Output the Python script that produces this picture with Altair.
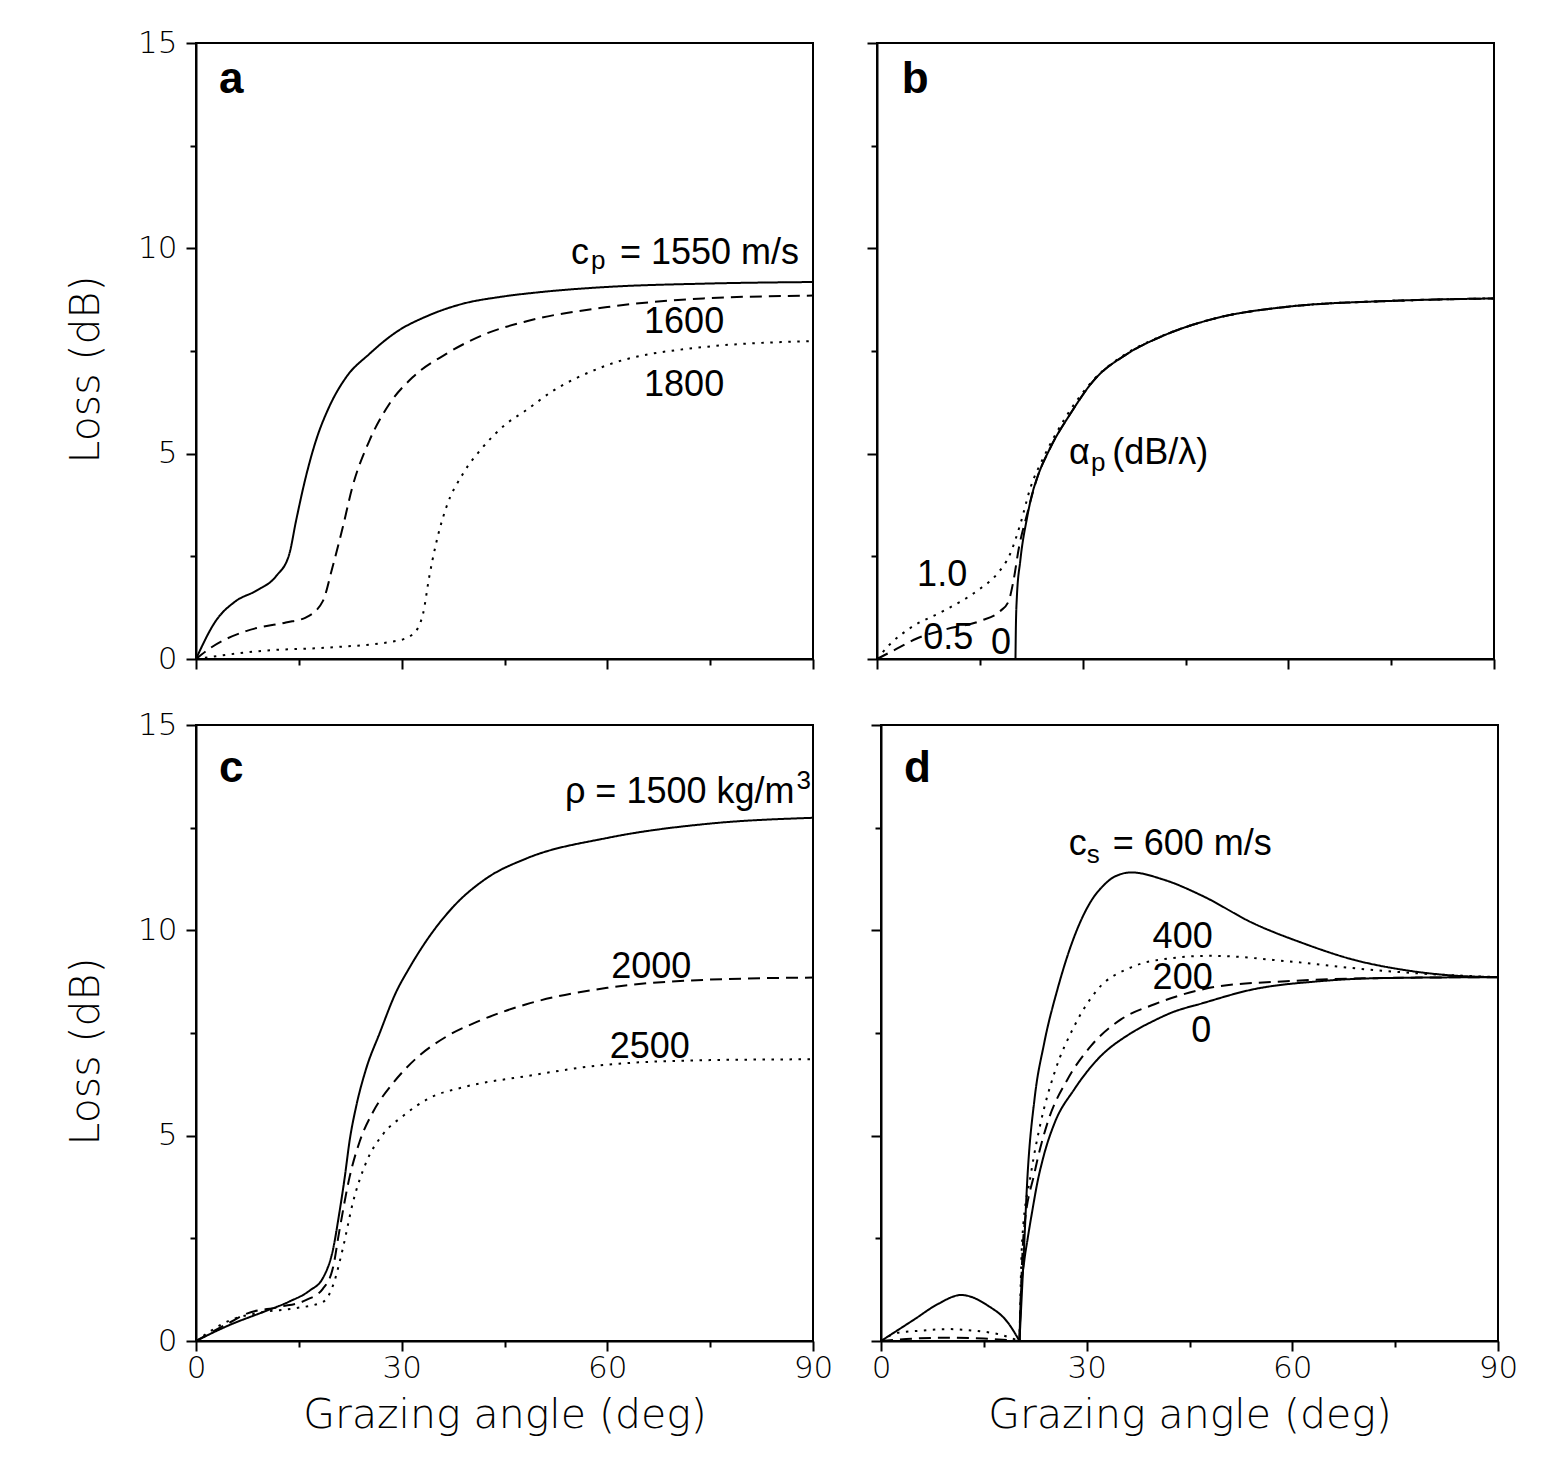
import altair as alt
import pandas as pd

# ---------------- Panel a : compressional speed c_p ----------------
a1550_x = [0, 2.9, 5.8, 8.75, 11.7, 13.6, 14.6, 16.0, 17.5, 19.4, 21.9, 25.3, 29.2, 34.0, 38.9, 44.5, 50, 60, 74, 90]
a1550_y = [0, 0.93, 1.41, 1.66, 2.02, 2.55, 3.37, 4.42, 5.32, 6.13, 6.86, 7.43, 7.96, 8.37, 8.65, 8.82, 8.93, 9.06, 9.14, 9.18]
a1600_x = [0, 2.2, 7.3, 13.1, 16.0, 18.5, 19.9, 21.4, 22.8, 25.3, 28.2, 31.6, 36.5, 42.3, 48.1, 60, 74, 90]
a1600_y = [0, 0.28, 0.68, 0.89, 1.01, 1.41, 2.23, 3.2, 4.18, 5.32, 6.21, 6.86, 7.43, 7.92, 8.22, 8.57, 8.78, 8.85]
a1800_x = [0, 9.7, 19.4, 29.2, 31.6, 33.1, 34.0, 35.0, 36.5, 38.9, 41.8, 45.2, 48.1, 51.8, 59.1, 73.7, 90]
a1800_y = [0, 0.2, 0.28, 0.44, 0.6, 1.09, 1.98, 2.8, 3.69, 4.5, 5.15, 5.72, 6.05, 6.5, 7.1, 7.59, 7.74]

# ---------------- Panel b : attenuation alpha_p ----------------
b0_flat_x = [0, 20.2]
b0_flat_y = [0, 0]
b0_x = [20.2, 20.25, 20.4, 20.9, 21.9, 22.6, 23.3, 25.3, 28.2, 31.6, 36.5, 41.3, 48.1, 60, 75, 90]
b0_y = [0, 0.7, 1.5, 2.39, 3.45, 4.0, 4.38, 5.15, 5.97, 6.78, 7.43, 7.84, 8.24, 8.58, 8.72, 8.78]
b05_x = [0, 2.9, 5.8, 10, 15.1, 18.0, 19.2, 19.9, 20.7, 21.9, 23.3, 25.3, 28.2, 31.6, 36.5, 41.3, 48.1, 60, 75, 90]
b05_y = [0, 0.25, 0.5, 0.72, 0.93, 1.17, 1.41, 1.9, 2.71, 3.53, 4.38, 5.15, 5.97, 6.78, 7.43, 7.84, 8.24, 8.58, 8.72, 8.78]
b10_x = [0, 1.9, 4.9, 9.7, 14.6, 17.5, 19.4, 20.9, 22.4, 24.3, 27.2, 31.6, 36.5, 41.3, 48.1, 60, 75, 90]
b10_y = [0, 0.36, 0.76, 1.17, 1.66, 2.07, 2.55, 3.28, 4.18, 4.91, 5.8, 6.8, 7.45, 7.85, 8.24, 8.58, 8.72, 8.78]

# ---------------- Panel c : density rho ----------------
c1500_x = [0, 4.9, 9.7, 13.6, 16.6, 18.5, 20.0, 20.9, 21.7, 22.4, 23.4, 24.8, 26.8, 29.2, 31.0, 33.1, 37.5, 42.4, 48.2, 60, 75, 90]
c1500_y = [0, 0.39, 0.70, 0.96, 1.23, 1.53, 2.24, 3.11, 3.99, 4.87, 5.74, 6.62, 7.50, 8.5, 9.05, 9.62, 10.57, 11.27, 11.75, 12.25, 12.6, 12.74]
c2000_x = [0, 4.9, 7.3, 12.2, 16.1, 18.5, 20.0, 20.9, 22.4, 23.9, 25.8, 28.7, 32.1, 36.5, 41.4, 48.2, 60, 75, 90]
c2000_y = [0, 0.45, 0.66, 0.83, 1.0, 1.27, 1.8, 2.67, 3.99, 4.87, 5.57, 6.27, 6.88, 7.41, 7.8, 8.2, 8.6, 8.8, 8.85]
c2500_x = [0, 4.9, 9.7, 14.6, 18.5, 20.0, 21.4, 22.9, 24.8, 27.3, 30.2, 34.1, 39.0, 48.2, 60, 75, 90]
c2500_y = [0, 0.5, 0.70, 0.8, 0.95, 1.36, 2.24, 3.38, 4.34, 5.04, 5.48, 5.92, 6.18, 6.45, 6.73, 6.84, 6.86]

# ---------------- Panel d : shear speed c_s ----------------
d600_bump_x = [0, 4.9, 8.3, 11.7, 15.6, 18.5, 20.2]
d600_bump_y = [0, 0.53, 0.9, 1.12, 0.86, 0.45, 0]
d600_x = [20.2, 20.7, 21.4, 22.4, 23.8, 25.8, 28.2, 30.6, 32.5, 34.0, 36.5, 41.3, 47.0, 54.2, 61.5, 68.8, 76.1, 83.4, 90]
d600_y = [0, 1.67, 4.1, 5.9, 7.25, 8.6, 9.85, 10.7, 11.1, 11.3, 11.41, 11.23, 10.83, 10.18, 9.69, 9.29, 9.04, 8.9, 8.86]
d400_bump_x = [0, 2.4, 5.8, 9.7, 13.6, 17.0, 20.2]
d400_bump_y = [0, 0.2, 0.25, 0.29, 0.25, 0.17, 0]
d400_x = [20.2, 20.6, 21.9, 23.3, 25.3, 28.2, 31.6, 36.5, 41.3, 48.1, 59.1, 68.8, 78.6, 90]
d400_y = [0, 2.48, 4.1, 5.32, 6.53, 7.67, 8.56, 9.1, 9.3, 9.38, 9.25, 9.08, 8.95, 8.86]
d200_bump_x = [0, 5, 10, 15, 20.2]
d200_bump_y = [0, 0.06, 0.08, 0.06, 0]
d200_x = [20.2, 20.8, 22.4, 24.3, 27.2, 30.6, 35.0, 39.9, 49.4, 59.1, 73.7, 90]
d200_y = [0, 2.6, 4.1, 5.32, 6.37, 7.18, 7.83, 8.2, 8.64, 8.76, 8.84, 8.86]
d0_flat_x = [0, 20.2]
d0_flat_y = [0, 0]
d0_x = [20.2, 20.4, 20.9, 21.4, 22.1, 22.8, 23.8, 25.3, 28.2, 31.6, 36.5, 39.7, 42.3, 47.0, 54.2, 63.9, 73.7, 90]
d0_y = [0, 1.1, 1.95, 2.5, 3.2, 3.85, 4.55, 5.3, 6.13, 6.86, 7.5, 7.79, 7.99, 8.23, 8.56, 8.76, 8.84, 8.86]

series = [
    ("a", "1550", "solid", a1550_x, a1550_y),
    ("a", "1600", "dashed", a1600_x, a1600_y),
    ("a", "1800", "dotted", a1800_x, a1800_y),
    ("b", "0-flat", "solid", b0_flat_x, b0_flat_y),
    ("b", "0", "solid", b0_x, b0_y),
    ("b", "0.5", "dashed", b05_x, b05_y),
    ("b", "1.0", "dotted", b10_x, b10_y),
    ("c", "1500", "solid", c1500_x, c1500_y),
    ("c", "2000", "dashed", c2000_x, c2000_y),
    ("c", "2500", "dotted", c2500_x, c2500_y),
    ("d", "600-bump", "solid", d600_bump_x, d600_bump_y),
    ("d", "600", "solid", d600_x, d600_y),
    ("d", "400-bump", "dotted", d400_bump_x, d400_bump_y),
    ("d", "400", "dotted", d400_x, d400_y),
    ("d", "200-bump", "dashed", d200_bump_x, d200_bump_y),
    ("d", "200", "dashed", d200_x, d200_y),
    ("d", "0-flat", "solid", d0_flat_x, d0_flat_y),
    ("d", "0", "solid", d0_x, d0_y),
]
rows = []
for panel, key, style, xs, ys in series:
    for i, (xv, yv) in enumerate(zip(xs, ys)):
        rows.append({"panel": panel, "key": key, "style": style, "x": xv, "y": yv, "order": i})
curves = pd.DataFrame(rows)

# annotations: panel, text, x (deg), y (dB), kind, align
ann_panel = ["a", "a", "a", "a", "a", "a",
             "b", "b", "b", "b", "b", "b", "b",
             "c", "c", "c", "c", "c",
             "d", "d", "d", "d", "d", "d", "d"]
ann_text = ["a", "c", "p", "= 1550 m/s", "1600", "1800",
            "b", "α", "p", "(dB/λ)", "1.0", "0.5", "0",
            "c", "ρ = 1500 kg/m", "3", "2000", "2500",
            "d", "c", "s", "= 600 m/s", "400", "200", "0"]
ann_x = [3.35, 54.7, 57.6, 87.96, 71.2, 71.2,
         3.6, 28.0, 31.2, 34.3, 9.5, 10.4, 18.1,
         3.35, 87.3, 87.6, 66.4, 66.2,
         3.35, 27.4, 30.0, 33.8, 44.0, 44.0, 46.7]
ann_y = [13.78, 9.63, 9.5, 9.63, 7.93, 6.41,
         13.78, 4.76, 4.57, 4.76, 1.78, 0.24, 0.12,
         13.6, 13.1, 13.45, 8.85, 6.9,
         13.6, 11.84, 11.64, 11.84, 9.58, 8.56, 7.29]
ann_kind = ["letter", "main", "sub", "main", "main", "main",
            "letter", "main", "sub", "main", "main", "main", "main",
            "letter", "main", "sub", "main", "main",
            "letter", "main", "sub", "main", "main", "main", "main"]
ann_align = ["left", "left", "left", "right", "center", "center",
             "left", "left", "left", "left", "center", "center", "center",
             "left", "right", "left", "center", "center",
             "left", "left", "left", "left", "center", "center", "center"]
ann = pd.DataFrame({"panel": ann_panel, "text": ann_text, "x": ann_x, "y": ann_y,
                    "kind": ann_kind, "align": ann_align})

x_ticks = [0, 15, 30, 45, 60, 75, 90]
y_ticks = [0, 2.5, 5, 7.5, 10, 12.5, 15]

AX_FONT = "DejaVu Sans"
TXT_FONT = "Liberation Sans"
xscale = alt.Scale(domain=[0, 90], nice=False, zero=False)
yscale = alt.Scale(domain=[0, 15], nice=False)
dash_scale = alt.Scale(domain=["solid", "dashed", "dotted"], range=[[1, 0], [12, 7], [2.5, 6.5]])

W, H = 617, 616


def make_axis(kind, show_labels):
    if kind == "x":
        vals, test, title = x_ticks, "datum.value % 30 === 0", "Grazing angle (deg)"
    else:
        vals, test, title = y_ticks, "datum.value % 5 === 0", "Loss (dB)"
    common = dict(
        values=vals,
        grid=False,
        domainColor="black", domainWidth=2,
        tickColor="black", tickWidth=2,
        tickSize={"condition": {"test": test, "value": 10}, "value": 6},
        labels=show_labels,
        labelFlush=False,
        labelFont=AX_FONT, labelFontSize=31, labelFontWeight=200, labelColor="black",
        titleFont=AX_FONT, titleFontSize=41, titleFontWeight=200, titleColor="black",
    )
    if show_labels:
        common["labelExpr"] = test + " ? datum.label : ''"
        common["title"] = title
        if kind == "x":
            common.update(labelPadding=2, titleX=W / 2, titleY=86, titleBaseline="alphabetic",
                          titleAlign="center")
        else:
            common.update(labelPadding=9, titleX=-110, titleY=326, titleAngle=270,
                          titleBaseline="middle", titleAlign="center")
    return alt.Axis(**common)


def panel_chart(pid, show_x, show_y):
    cd = curves[curves["panel"] == pid]
    lines = alt.Chart(cd).mark_line(color="black", strokeWidth=2, interpolate="monotone").encode(
        x=alt.X("x:Q", scale=xscale, axis=make_axis("x", show_x), title="Grazing angle (deg)" if show_x else None),
        y=alt.Y("y:Q", scale=yscale, axis=make_axis("y", show_y), title="Loss (dB)" if show_y else None),
        strokeDash=alt.StrokeDash("style:N", scale=dash_scale, legend=None),
        detail="key:N",
        order="order:Q",
    )
    layers = [lines]
    ad = ann[ann["panel"] == pid]
    specs = {"letter": (44, "bold"), "main": (36, "normal"), "sub": (26, "normal")}
    for kind, (fs, fw) in specs.items():
        for align in ["left", "center", "right"]:
            sub = ad[(ad["kind"] == kind) & (ad["align"] == align)]
            if len(sub) == 0:
                continue
            layers.append(
                alt.Chart(sub).mark_text(font=TXT_FONT, fontSize=fs, fontWeight=fw, align=align,
                                         baseline="alphabetic", color="black").encode(
                    x=alt.X("x:Q", scale=xscale),
                    y=alt.Y("y:Q", scale=yscale),
                    text="text:N",
                )
            )
    return alt.layer(*layers).properties(width=W, height=H)


top = alt.hconcat(panel_chart("a", False, True), panel_chart("b", False, False), spacing=47)
bottom = alt.hconcat(panel_chart("c", True, True), panel_chart("d", True, False), spacing=35)
chart = alt.vconcat(top, bottom, spacing=33).properties(
    padding={"left": 56, "top": 18, "right": 5, "bottom": 5},
    background="white",
).configure_view(stroke="black", strokeWidth=2)

chart.save("out.html", embed_options={"renderer": "svg", "actions": False})
